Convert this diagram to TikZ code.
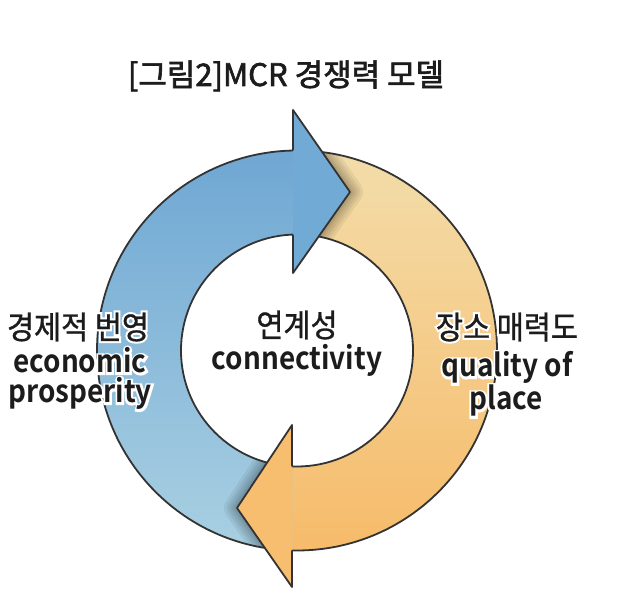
\documentclass[tikz,border=0pt]{standalone}
\usepackage{fontspec}
\setmainfont{Noto Sans CJK KR}
\newfontfamily\krfont[FakeStretch=0.92,FakeBold=1]{Noto Sans CJK KR}
\newfontfamily\krhalo[FakeStretch=0.92,FakeBold=14]{Noto Sans CJK KR}
\newfontfamily\enfont[FakeStretch=0.9]{Noto Sans CJK KR Bold}
\newfontfamily\enhalo[FakeStretch=0.9,FakeBold=14]{Noto Sans CJK KR Bold}
\newfontfamily\titlefont[FakeBold=2]{Noto Sans CJK KR}
\definecolor{blTop}{HTML}{6FA7D3}
\definecolor{blMid}{HTML}{7CB3D9}
\definecolor{blBot}{HTML}{A9D0E2}
\definecolor{blHead}{HTML}{72AAD6}
\definecolor{orTop}{HTML}{F3DDAA}
\definecolor{orMid}{HTML}{F5CC88}
\definecolor{orBot}{HTML}{F6BB6A}
\definecolor{orHead}{HTML}{F7BE6F}
\definecolor{ink}{HTML}{1C1C1C}
\newcommand\krtext[4]{%
  \node[glow,text height=25pt,text depth=2pt] at (#2,#3) {\krhalo\fontsize{32}{32}\selectfont #4};
  \node[lbl,text height=25pt,text depth=2pt] (#1) at (#2,#3) {\krfont\fontsize{32}{32}\selectfont #4};}
\newcommand\entext[4]{%
  \node[glow,text height=21pt,text depth=5pt] at (#2,#3) {\enhalo\fontsize{31}{31}\selectfont #4};
  \node[lbl,text height=21pt,text depth=5pt] (#1) at (#2,#3) {\enfont\fontsize{31}{31}\selectfont #4};}
\begin{document}
\begin{tikzpicture}[x=1pt,y=1pt,
  ring/.style={draw=black!80,line width=1.8pt,line join=round},
  lbl/.style={anchor=base,text=ink,inner sep=0pt},
  glow/.style={anchor=base,text=white,inner sep=0pt},
  shad/.style={draw=black,opacity=0.06,line join=round,line cap=round}]
\useasboundingbox (0,0) rectangle (640,593);
\coordinate (C) at (297,242.5);
% orange band (right)
\shade[top color=orTop,middle color=orMid,bottom color=orBot]
  ([shift={(91.15:200)}]C) arc[start angle=91.15,end angle=-91.43,radius=200]
  -- ([shift={(-92.47:116)}]C) arc[start angle=-92.47,end angle=91.98,radius=116] -- cycle;
% blue band (left)
\shade[top color=blTop,middle color=blMid,bottom color=blBot]
  ([shift={(268.57:200)}]C) arc[start angle=268.57,end angle=91.15,radius=200]
  -- ([shift={(91.98:116)}]C) arc[start angle=91.98,end angle=267.53,radius=116] -- cycle;
% head coordinates
\coordinate (bo) at (293,442.5);
\coordinate (bt) at (293,483);
\coordinate (btip) at (350,401);
\coordinate (bb) at (293,320);
\coordinate (bi) at (293,358.4);
\coordinate (oo) at (292,42.5);
\coordinate (ob) at (292,6);
\coordinate (otip) at (237,85);
\coordinate (ot) at (292,168);
\coordinate (oi) at (292,126.5);
% soft shadows of the heads, kept on the ring
\begin{scope}
  \clip ([shift={(0:200)}]C) arc[start angle=0,end angle=360,radius=200]
    -- ([shift={(0:116)}]C) arc[start angle=360,end angle=0,radius=116] -- cycle;
  \foreach \w in {26,20,15,10,6}{
    \draw[shad,line width=\w pt,xshift=3pt] (bt) -- (btip) -- (bb);
    \draw[shad,line width=\w pt,xshift=-3pt] (ob) -- (otip) -- (ot);}
\end{scope}
% ring outlines
\draw[ring] (C) circle[radius=200];
\draw[ring] (C) circle[radius=116];
% blue arrow head (top, pointing right)
\fill[blHead] (bo) -- (bt) -- (btip) -- (bb) -- (bi) -- cycle;
\draw[ring] (bo) -- (bt) -- (btip) -- (bb) -- (bi);
% orange arrow head (bottom, pointing left)
\fill[orHead] (oo) -- (ob) -- (otip) -- (ot) -- (oi) -- cycle;
\draw[ring] (oo) -- (ob) -- (otip) -- (ot) -- (oi);
% title
\node[lbl] (title) at (286,507) {\titlefont\fontsize{31}{36}\selectfont [그림2]MCR 경쟁력 모델};
% labels
\krtext{lkr}{78}{254}{경제적 번영}
\entext{len1}{80}{220}{economic}
\entext{len2}{80}{190}{prosperity}
\krtext{ckr}{297}{256}{연계성}
\entext{cen}{297}{223}{connectivity}
\krtext{rkr}{507}{254}{장소 매력도}
\entext{ren1}{507}{216}{quality of}
\entext{ren2}{506}{183}{place}
\end{tikzpicture}
\end{document}
